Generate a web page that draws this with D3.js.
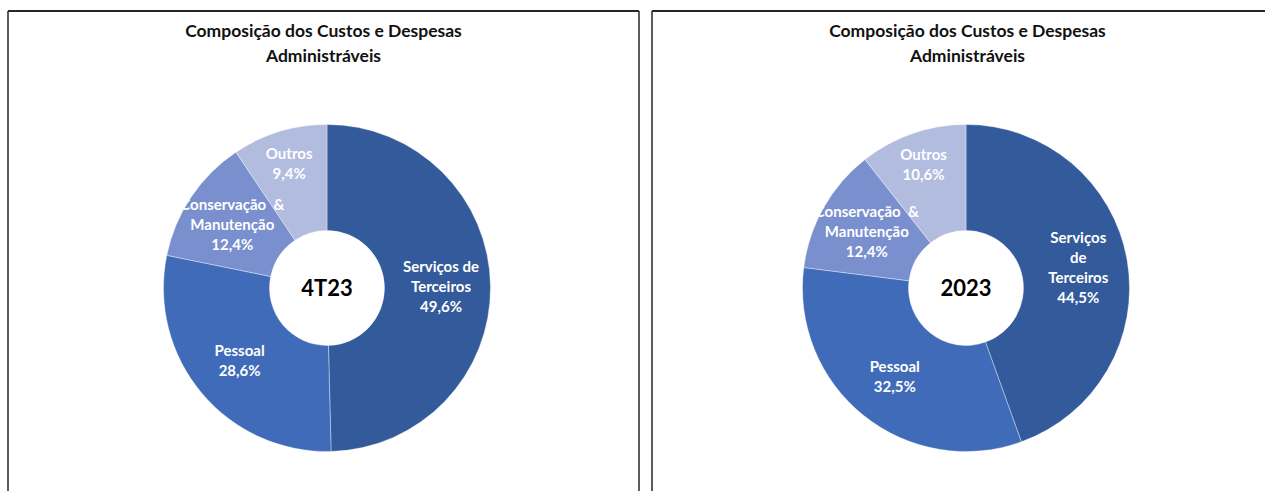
<!DOCTYPE html>
<html>
<head>
<meta charset="utf-8">
<script src="https://cdn.jsdelivr.net/npm/d3@7/dist/d3.min.js"></script>
<style>
  html, body { margin: 0; padding: 0; background: #fff; }
  svg { display: block; }
  text { font-family: Lato, "Open Sans", sans-serif; }
</style>
</head>
<body>
<svg id="chart" width="1265" height="491"></svg>
<script>
// ---- data ----
const title = ["Composição dos Custos e Despesas", "Administráveis"];
const categories = ["Serviços de Terceiros", "Pessoal", "Conservação & Manutenção", "Outros"];
const periods = ["4T23", "2023"];
const values4T23 = [49.6, 28.6, 12.4, 9.4];
const values2023 = [44.5, 32.5, 12.4, 10.6];
const labelLines4T23 = [["Serviços de", "Terceiros"], ["Pessoal"], ["Conservação  &", "Manutenção"], ["Outros"]];
const labelLines2023 = [["Serviços", "de", "Terceiros"], ["Pessoal"], ["Conservação  &", "Manutenção"], ["Outros"]];
const colors = ["#335A9A", "#3F6BB8", "#7A8FCE", "#B2BCDF"];

(function () {
const svg = d3.select("#chart");
const color = d3.scaleOrdinal().domain(categories).range(colors);
const fmt = v => d3.format(".1f")(v).replace(".", ",") + "%";

const panels = [
  { x0: 8, x1: 639, cx: 327, period: periods[0], values: values4T23, lines: labelLines4T23 },
  { x0: 652, x1: 1283, cx: 966, period: periods[1], values: values2023, lines: labelLines2023 }
];

const frameTop = 11, cy = 288, rOuter = 163.5, rInner = 57.5;
// label distance from centre (style), the small top slice sits further out
const labelRadius = { "Outros": 130 };
const defaultLabelRadius = 114;

const pie = d3.pie().sort(null).value(d => d.value);
const arc = d3.arc().innerRadius(rInner).outerRadius(rOuter);

panels.forEach(p => {
  const frame = svg.append("g");
  frame.append("line").attr("x1", p.x0).attr("x2", p.x1).attr("y1", frameTop).attr("y2", frameTop)
    .attr("stroke", "#262626").attr("stroke-width", 2);
  frame.append("line").attr("x1", p.x0).attr("x2", p.x0).attr("y1", frameTop).attr("y2", 491)
    .attr("stroke", "#262626").attr("stroke-width", 1.5);
  frame.append("line").attr("x1", p.x1).attr("x2", p.x1).attr("y1", frameTop).attr("y2", 491)
    .attr("stroke", "#262626").attr("stroke-width", 1.5);

  const midX = (p.x0 + p.x1) / 2;
  svg.append("text").attr("x", midX).attr("y", 37).attr("text-anchor", "middle")
    .attr("font-size", 17.5).attr("font-weight", "bold").attr("fill", "#111").text(title[0]);
  svg.append("text").attr("x", midX).attr("y", 62).attr("text-anchor", "middle")
    .attr("font-size", 17.5).attr("font-weight", "bold").attr("fill", "#111").text(title[1]);

  const data = categories.map((c, i) => ({ cat: c, value: p.values[i], lines: p.lines[i] }));
  const arcs = pie(data);
  const g = svg.append("g").attr("transform", `translate(${p.cx},${cy})`);

  g.selectAll("path").data(arcs).join("path")
    .attr("d", arc)
    .attr("fill", d => color(d.data.cat))
    .attr("stroke", "rgba(255,255,255,0.45)")
    .attr("stroke-width", 0.8);

  arcs.forEach(d => {
    const r = labelRadius[d.data.cat] || defaultLabelRadius;
    const [lx, ly] = d3.arc().innerRadius(r).outerRadius(r).centroid(d);
    const lines = d.data.lines.concat([fmt(d.data.value)]);
    const lh = 20;
    const t = g.append("text").attr("text-anchor", "middle").attr("fill", "#fff")
      .attr("font-size", 15).attr("font-weight", "bold")
      .style("white-space", "pre");
    lines.forEach((ln, k) => {
      t.append("tspan").attr("x", lx)
        .attr("y", ly + (k - (lines.length - 1) / 2) * lh + 5)
        .text(ln);
    });
  });

  g.append("text").attr("x", 0).attr("y", 8).attr("text-anchor", "middle")
    .attr("font-size", 22).attr("font-weight", "bold").attr("fill", "#000").text(p.period);
});
})();
</script>
</body>
</html>
